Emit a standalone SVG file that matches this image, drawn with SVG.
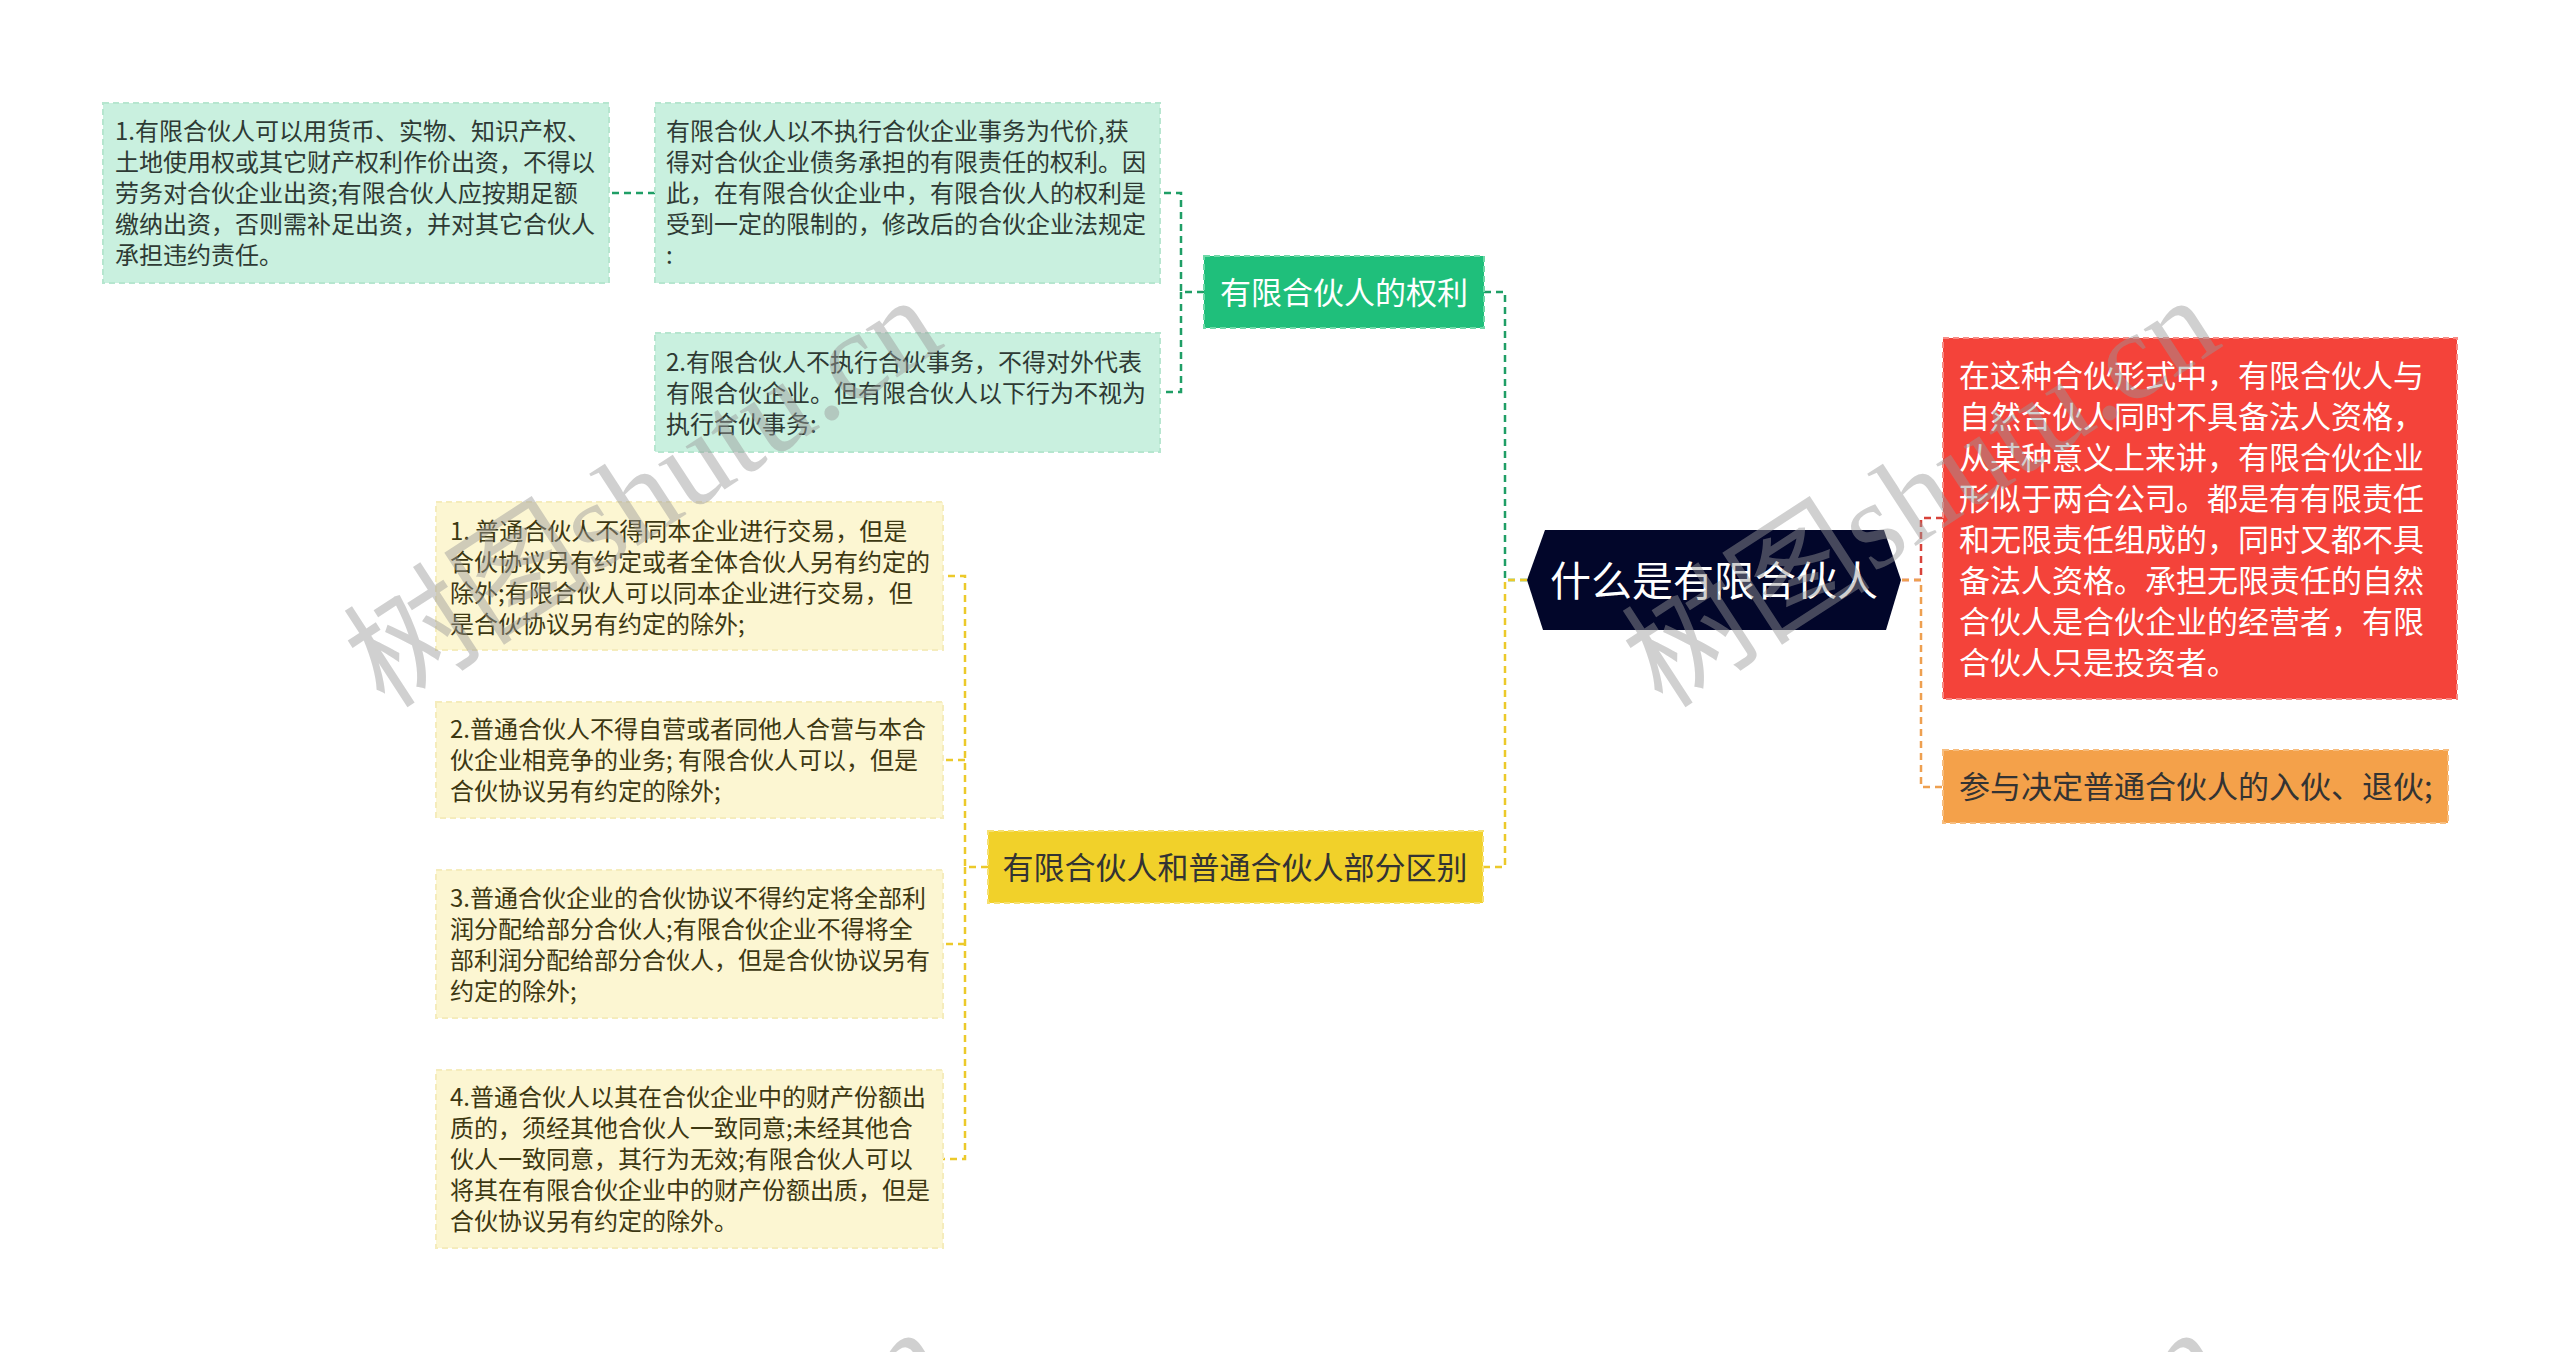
<svg xmlns="http://www.w3.org/2000/svg" width="2560" height="1352" viewBox="0 0 2560 1352">
<style>
.t{font-family:"Noto Sans CJK SC","Noto Sans",sans-serif}
.s24{font-size:24px}
.s31{font-size:31px}
.cg{fill:#2e3a34}
.cy{fill:#3d3812}
.c{fill:none;stroke-width:2.5;stroke-dasharray:7 5}
.bd{stroke-width:2;stroke-dasharray:6 4}
.wm{font-family:"Liberation Serif","Noto Sans CJK SC",serif;font-size:125px;fill:#999;opacity:0.45}
</style>
<rect width="2560" height="1352" fill="#ffffff"/>
<g id="connectors">
<path class="c" stroke="#1f9e66" d="M1527 580 H1505 V292 H1484"/>
<path class="c" stroke="#1f9e66" d="M1204 292 H1181 V193 H1160 M1181 292 V392 H1160 M655 193 H609"/>
<path class="c" stroke="#ecc92a" d="M1527 580 H1505 V867 H1483"/>
<path class="c" stroke="#ecc92a" d="M988 867 H965 V576 H943 M965 867 V1159 H943 M965 760 H943 M965 944 H943"/>
<path class="c" stroke="#d8423a" d="M1902 580 H1921 V518 H1943"/>
<path class="c" stroke="#eea050" d="M1902 580 H1921 V787 H1943"/>
</g>
<g id="root">
<polygon points="1545,530 1884,530 1901,580 1886,630 1543,630 1527,580" fill="#02062a"/>
<text class="t" x="1714" y="596" font-size="41" fill="#ffffff" text-anchor="middle">什么是有限合伙人</text>
</g>
<g id="n-right-red">
<rect class="bd" x="1943" y="338" width="514" height="361" fill="#f4433a" stroke="#f88a84"/>
<text class="t s31" fill="#ffffff" x="1959"><tspan x="1959" y="387">在这种合伙形式中，有限合伙人与</tspan><tspan x="1959" y="428">自然合伙人同时不具备法人资格，</tspan><tspan x="1959" y="469">从某种意义上来讲，有限合伙企业</tspan><tspan x="1959" y="510">形似于两合公司。都是有有限责任</tspan><tspan x="1959" y="551">和无限责任组成的，同时又都不具</tspan><tspan x="1959" y="592">备法人资格。承担无限责任的自然</tspan><tspan x="1959" y="633">合伙人是合伙企业的经营者，有限</tspan><tspan x="1959" y="674">合伙人只是投资者。</tspan></text>
</g>
<g id="n-right-orange">
<rect class="bd" x="1943" y="750" width="505" height="73" fill="#f4a14a" stroke="#f7bd7e"/>
<text class="t s31" fill="#333333" x="1959" y="798">参与决定普通合伙人的入伙、退伙;</text>
</g>
<g id="n-green">
<rect class="bd" x="1204" y="256" width="280" height="72" fill="#1fbf7b" stroke="#6fd9a8"/>
<text class="t s31" fill="#ffffff" x="1344" y="304" text-anchor="middle">有限合伙人的权利</text>
</g>
<g id="n-green-1">
<rect class="bd" x="655" y="103" width="505" height="180" fill="#c9f0df" stroke="#b6e6cf"/>
<text class="t s24 cg"><tspan x="666" y="140">有限合伙人以不执行合伙企业事务为代价,获</tspan><tspan x="666" y="171">得对合伙企业债务承担的有限责任的权利。因</tspan><tspan x="666" y="202">此，在有限合伙企业中，有限合伙人的权利是</tspan><tspan x="666" y="233">受到一定的限制的，修改后的合伙企业法规定</tspan><tspan x="666" y="264">:</tspan></text>
</g>
<g id="n-green-1-1">
<rect class="bd" x="103" y="103" width="506" height="180" fill="#c9f0df" stroke="#b6e6cf"/>
<text class="t s24 cg"><tspan x="115" y="140">1.有限合伙人可以用货币、实物、知识产权、</tspan><tspan x="115" y="171">土地使用权或其它财产权利作价出资，不得以</tspan><tspan x="115" y="202">劳务对合伙企业出资;有限合伙人应按期足额</tspan><tspan x="115" y="233">缴纳出资，否则需补足出资，并对其它合伙人</tspan><tspan x="115" y="264">承担违约责任。</tspan></text>
</g>
<g id="n-green-2">
<rect class="bd" x="655" y="333" width="505" height="119" fill="#c9f0df" stroke="#b6e6cf"/>
<text class="t s24 cg"><tspan x="666" y="371">2.有限合伙人不执行合伙事务，不得对外代表</tspan><tspan x="666" y="402">有限合伙企业。但有限合伙人以下行为不视为</tspan><tspan x="666" y="433">执行合伙事务:</tspan></text>
</g>
<g id="n-yellow">
<rect class="bd" x="988" y="831" width="495" height="72" fill="#f1d12a" stroke="#f6e070"/>
<text class="t s31" fill="#333333" x="1235" y="879" text-anchor="middle">有限合伙人和普通合伙人部分区别</text>
</g>
<g id="n-yellow-1">
<rect class="bd" x="436" y="502" width="507" height="148" fill="#fcf6d2" stroke="#f5ecbc"/>
<text class="t s24 cy"><tspan x="450" y="540">1.  普通合伙人不得同本企业进行交易，但是</tspan><tspan x="450" y="571">合伙协议另有约定或者全体合伙人另有约定的</tspan><tspan x="450" y="602">除外;有限合伙人可以同本企业进行交易，但</tspan><tspan x="450" y="633">是合伙协议另有约定的除外;</tspan></text>
</g>
<g id="n-yellow-2">
<rect class="bd" x="436" y="702" width="507" height="116" fill="#fcf6d2" stroke="#f5ecbc"/>
<text class="t s24 cy"><tspan x="450" y="738">2.普通合伙人不得自营或者同他人合营与本合</tspan><tspan x="450" y="769">伙企业相竞争的业务; 有限合伙人可以，但是</tspan><tspan x="450" y="800">合伙协议另有约定的除外;</tspan></text>
</g>
<g id="n-yellow-3">
<rect class="bd" x="436" y="870" width="507" height="148" fill="#fcf6d2" stroke="#f5ecbc"/>
<text class="t s24 cy"><tspan x="450" y="907">3.普通合伙企业的合伙协议不得约定将全部利</tspan><tspan x="450" y="938">润分配给部分合伙人;有限合伙企业不得将全</tspan><tspan x="450" y="969">部利润分配给部分合伙人，但是合伙协议另有</tspan><tspan x="450" y="1000">约定的除外;</tspan></text>
</g>
<g id="n-yellow-4">
<rect class="bd" x="436" y="1070" width="507" height="178" fill="#fcf6d2" stroke="#f5ecbc"/>
<text class="t s24 cy"><tspan x="450" y="1106">4.普通合伙人以其在合伙企业中的财产份额出</tspan><tspan x="450" y="1137">质的，须经其他合伙人一致同意;未经其他合</tspan><tspan x="450" y="1168">伙人一致同意，其行为无效;有限合伙人可以</tspan><tspan x="450" y="1199">将其在有限合伙企业中的财产份额出质，但是</tspan><tspan x="450" y="1230">合伙协议另有约定的除外。</tspan></text>
</g>
<g id="watermarks">
<text class="wm" transform="translate(385,710) rotate(-33)">树图shutu.cn</text>
<text class="wm" transform="translate(1663,710) rotate(-33)">树图shutu.cn</text>
<text class="wm" transform="translate(390,1742) rotate(-33)">树图shutu.cn</text>
<text class="wm" transform="translate(1668,1742) rotate(-33)">树图shutu.cn</text>
</g>
</svg>
